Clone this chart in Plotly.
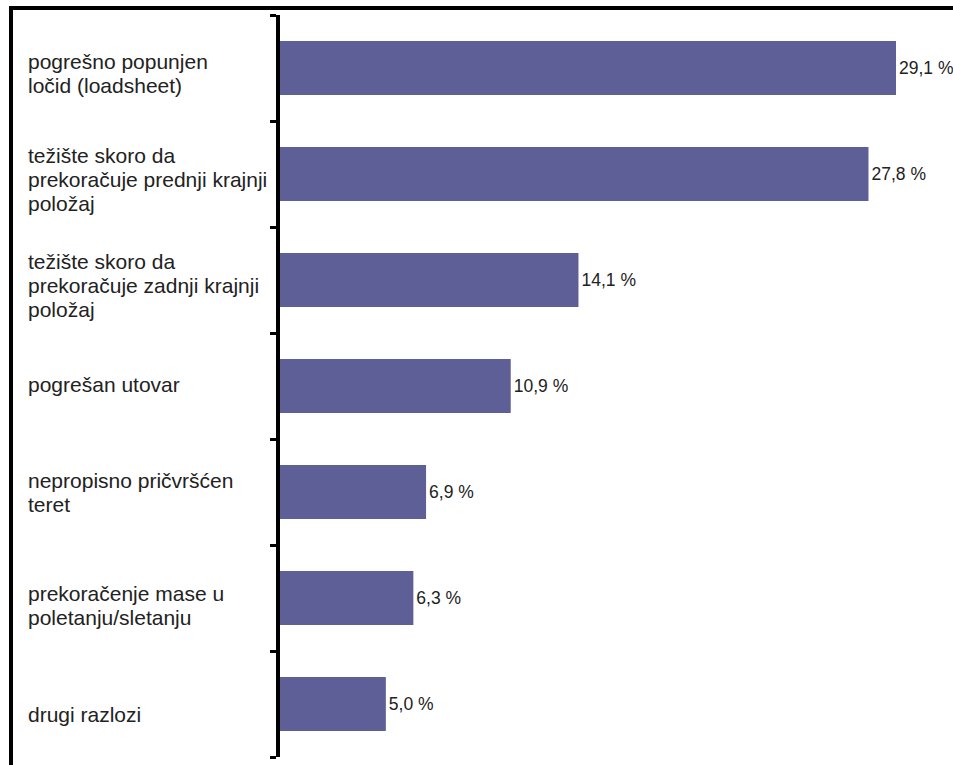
import plotly.graph_objects as go

categories = [
    "pogrešno popunjen<br>ločid (loadsheet)",
    "težište skoro da<br>prekoračuje prednji krajnji<br>položaj",
    "težište skoro da<br>prekoračuje zadnji krajnji<br>položaj",
    "pogrešan utovar",
    "nepropisno pričvršćen<br>teret",
    "prekoračenje mase u<br>poletanju/sletanju",
    "drugi razlozi",
]
values = [29.1, 27.8, 14.1, 10.9, 6.9, 6.3, 5.0]
value_labels = ["29,1 %", "27,8 %", "14,1 %", "10,9 %", "6,9 %", "6,3 %", "5,0 %"]

# layout / style settings
W, H = 953, 765
ML, MR, MT, MB = 280, 0, 15, 8
label_offsets = [5, 5, 5, -2, 0, 7, 10]   # px downward shift of category label blocks
line_spacing = 24
bar_color = "#5f5f98"
text_color = "#222222"
font_family = "Liberation Sans, Arial, sans-serif"

fig = go.Figure()
fig.add_trace(go.Bar(
    x=values, y=list(range(len(categories))), orientation="h",
    marker=dict(color=bar_color, line=dict(width=0)),
    width=0.51,
    text=value_labels, textposition="outside", constraintext="none",
    cliponaxis=False,
    textfont=dict(size=17.5, color=text_color, family=font_family),
    hoverinfo="skip",
))

pw = W - ML - MR
ph = H - MT - MB
label_x = (26 - ML) / pw

annotations = []
for i, cat in enumerate(categories):
    lines = cat.split("<br>")
    n = len(lines)
    for j, ln in enumerate(lines):
        shift = label_offsets[i] + (j - (n - 1) / 2) * line_spacing
        annotations.append(dict(
            x=label_x, xref="paper", y=i, yref="y",
            text=ln, showarrow=False, xanchor="left", yanchor="middle",
            yshift=-shift,
            font=dict(size=21, color=text_color, family=font_family),
        ))

# frame lines (top and left)
top_y = (H - MB - 8) / ph
left_x = (11 - ML) / pw
shapes = [
    dict(type="line", xref="paper", yref="paper", x0=(9 - ML) / pw, x1=1.05,
         y0=top_y, y1=top_y, line=dict(color="black", width=4)),
    dict(type="line", xref="paper", yref="paper", x0=left_x, x1=left_x,
         y0=top_y + 2 / ph, y1=-0.05, line=dict(color="black", width=4)),
]

fig.update_layout(
    width=W, height=H,
    margin=dict(l=ML, r=MR, t=MT, b=MB, pad=0),
    paper_bgcolor="white", plot_bgcolor="white",
    showlegend=False,
    xaxis=dict(range=[0, (W - ML) / (616 / 29.1)], visible=False, fixedrange=True),
    yaxis=dict(
        range=[len(categories) - 0.5, -0.5], type="linear",
        tickmode="array", tickvals=[k - 0.5 for k in range(len(categories) + 1)],
        showticklabels=False, ticks="outside", ticklen=6, tickwidth=3,
        tickcolor="black", showline=True, linewidth=4, linecolor="black",
        showgrid=False, zeroline=False, fixedrange=True,
    ),
    annotations=annotations,
    shapes=shapes,
)

fig.write_html("out.html")
